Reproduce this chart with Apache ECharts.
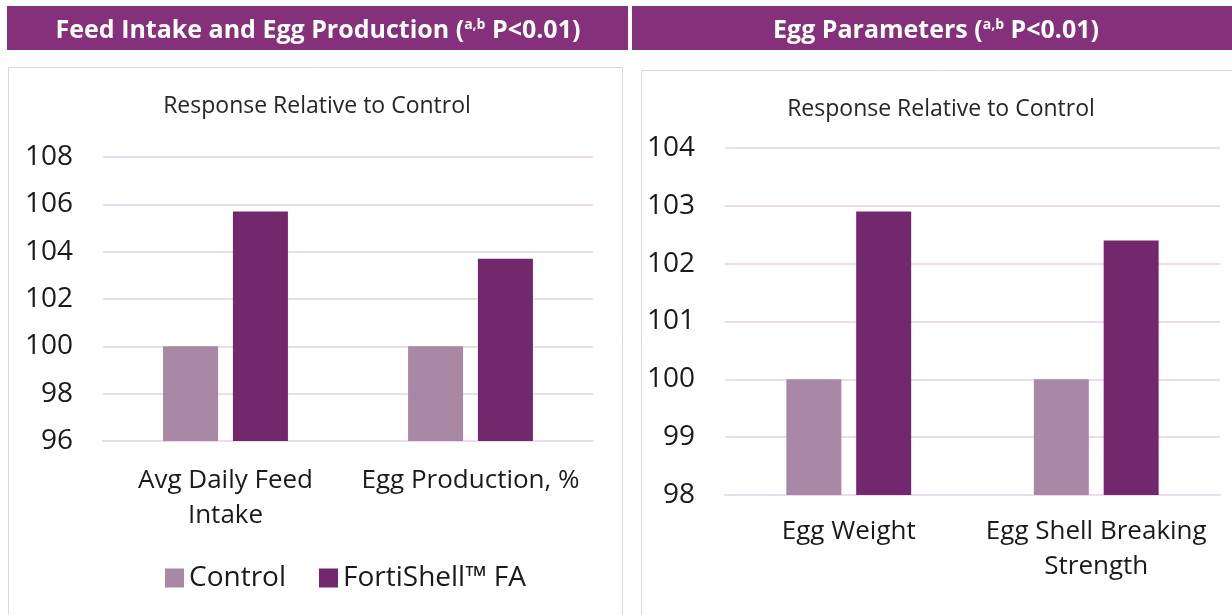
<!DOCTYPE html>
<html>
<head>
<meta charset="utf-8">
<script src="https://cdn.jsdelivr.net/npm/echarts@6/dist/echarts.min.js"></script>
<style>
  html, body { margin: 0; padding: 0; background: #fff; }
  #main { width: 1232px; height: 615px; }
</style>
</head>
<body>
<div id="main"></div>
<script>
// data
var seriesNames = ['Control', 'FortiShell™ FA'];
var feedCategories = ['Avg Daily Feed\nIntake', 'Egg Production, %'];
var feedControl = [100, 100];
var feedFortiShell = [105.7, 103.7];
var eggCategories = ['Egg Weight', 'Egg Shell Breaking\nStrength'];
var eggControl = [100, 100];
var eggFortiShell = [102.9, 102.4];

var FONT = '"Open Sans", sans-serif';
var lightColor = '#A988A6';
var darkColor = '#73276D';
var headerColor = '#84307B';
var gridColor = '#EBDDEB';

var myChart = echarts.init(document.getElementById('main'));

function barSeries(name, data, idx, color) {
  return {
    type: 'bar',
    name: name,
    data: data,
    xAxisIndex: idx,
    yAxisIndex: idx,
    barWidth: 55,
    barGap: '27%',
    itemStyle: { color: color },
    silent: true
  };
}

var headerRich = {
  t: { fill: '#fff', fontFamily: FONT, fontWeight: 'bold', fontSize: 25 },
  s: { fill: '#fff', fontFamily: FONT, fontWeight: 'bold', fontSize: 14, padding: [0, 0, 11, 0] }
};

var option = {
  animation: false,
  textStyle: { fontFamily: FONT },
  graphic: [
    // panel borders
    { type: 'rect', shape: { x: 8.5, y: 67.5, width: 614, height: 560 }, style: { fill: '#fff', stroke: '#D9D9D9', lineWidth: 1 }, z: -10 },
    { type: 'rect', shape: { x: 641.5, y: 70.5, width: 600, height: 560 }, style: { fill: '#fff', stroke: '#D9D9D9', lineWidth: 1 }, z: -10 },
    // header bars
    { type: 'rect', shape: { x: 7, y: 6, width: 621, height: 44 }, style: { fill: headerColor } },
    { type: 'rect', shape: { x: 632, y: 6, width: 600, height: 44 }, style: { fill: headerColor } },
    {
      type: 'text', x: 318, y: 31,
      style: {
        text: '{t|Feed Intake and Egg Production (}{s|a,b}{t| P<0.01)}',
        align: 'center', verticalAlign: 'middle',
        rich: headerRich
      }
    },
    {
      type: 'text', x: 936, y: 31,
      style: {
        text: '{t|Egg Parameters (}{s|a,b}{t| P<0.01)}',
        align: 'center', verticalAlign: 'middle',
        rich: headerRich
      }
    }
  ],
  title: [
    { text: 'Response Relative to Control', left: 312, top: 101, textAlign: 'center', textVerticalAlign: 'middle',
      textStyle: { fontFamily: FONT, fontSize: 23, fontWeight: 'normal', color: '#262626' } },
    { text: 'Response Relative to Control', left: 936, top: 104, textAlign: 'center', textVerticalAlign: 'middle',
      textStyle: { fontFamily: FONT, fontSize: 23, fontWeight: 'normal', color: '#262626' } }
  ],
  legend: {
    data: seriesNames,
    left: 160,
    top: 559,
    itemWidth: 19,
    itemHeight: 19,
    itemGap: 33,
    icon: 'rect',
    textStyle: { fontFamily: FONT, fontSize: 28, color: '#1a1a1a' }
  },
  grid: [
    { left: 103, width: 490, top: 157, height: 284 },
    { left: 725, width: 495, top: 148, height: 347 }
  ],
  xAxis: [
    { type: 'category', gridIndex: 0, data: feedCategories,
      axisLine: { lineStyle: { color: gridColor, width: 2 } }, axisTick: { show: false },
      axisLabel: { interval: 0, fontFamily: FONT, fontSize: 26, color: '#1a1a1a', margin: 22, lineHeight: 35 } },
    { type: 'category', gridIndex: 1, data: eggCategories,
      axisLine: { lineStyle: { color: gridColor, width: 2 } }, axisTick: { show: false },
      axisLabel: { interval: 0, fontFamily: FONT, fontSize: 26, color: '#1a1a1a', margin: 19, lineHeight: 35 } }
  ],
  yAxis: [
    { type: 'value', gridIndex: 0, min: 96, max: 108, interval: 2,
      axisLine: { show: false }, axisTick: { show: false },
      splitLine: { lineStyle: { color: gridColor, width: 2 } },
      axisLabel: { fontFamily: FONT, fontSize: 28, color: '#1a1a1a', margin: 30 } },
    { type: 'value', gridIndex: 1, min: 98, max: 104, interval: 1,
      axisLine: { show: false }, axisTick: { show: false },
      splitLine: { lineStyle: { color: gridColor, width: 2 } },
      axisLabel: { fontFamily: FONT, fontSize: 28, color: '#1a1a1a', margin: 30 } }
  ],
  series: [
    barSeries(seriesNames[0], feedControl, 0, lightColor),
    barSeries(seriesNames[1], feedFortiShell, 0, darkColor),
    barSeries(seriesNames[0], eggControl, 1, lightColor),
    barSeries(seriesNames[1], eggFortiShell, 1, darkColor)
  ]
};

option && myChart.setOption(option);
</script>
</body>
</html>
